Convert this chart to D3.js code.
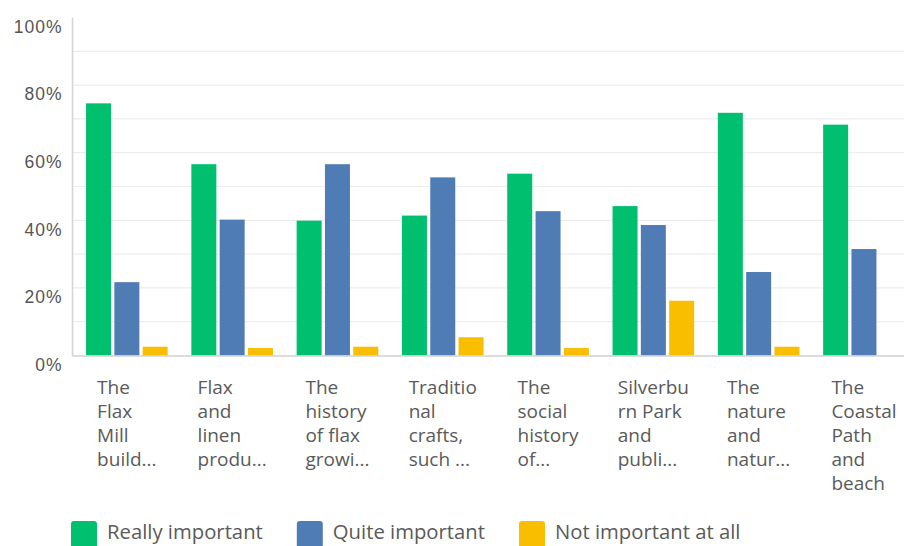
<!DOCTYPE html>
<html>
<head>
<meta charset="utf-8">
<script src="https://cdn.jsdelivr.net/npm/d3@7"></script>
<style>
  html, body { margin: 0; padding: 0; background: #ffffff; }
  svg { display: block; }
  .ylab { font-family: "Liberation Sans", Arial, sans-serif; font-size: 17.5px; letter-spacing: 1px; fill: #555; }
  .xlab { font-family: "Open Sans", sans-serif; font-size: 19px; fill: #5a5a5a; }
  .leg { font-family: "Open Sans", sans-serif; font-size: 20.3px; fill: #5a5a5a; }
</style>
</head>
<body>
<svg id="chart" width="904" height="546"></svg>
<script>
// Survey answers: share of respondents per topic (percent)
const categories = [
  "The Flax Mill build...",
  "Flax and linen produ...",
  "The history of flax growi...",
  "Traditional crafts, such ...",
  "The social history of...",
  "Silverburn Park and publi...",
  "The nature and natur...",
  "The Coastal Path and beach"
];
// Wrapped tick label lines as shown under each group
const tickLines = [
  ["The", "Flax", "Mill", "build..."],
  ["Flax", "and", "linen", "produ..."],
  ["The", "history", "of flax", "growi..."],
  ["Traditio", "nal", "crafts,", "such ..."],
  ["The", "social", "history", "of..."],
  ["Silverbu", "rn Park", "and", "publi..."],
  ["The", "nature", "and", "natur..."],
  ["The", "Coastal", "Path", "and", "beach"]
];
const seriesNames = ["Really important", "Quite important", "Not important at all"];
const reallyImportant = [74.6, 56.6, 39.9, 41.4, 53.8, 44.2, 71.8, 68.3];
const quiteImportant  = [21.7, 40.2, 56.6, 52.7, 42.7, 38.6, 24.7, 31.5];
const notImportant    = [2.6, 2.2, 2.6, 5.4, 2.2, 16.2, 2.6, 0];
const yTicks = [0, 20, 40, 60, 80, 100];
const yGrid = [10, 20, 30, 40, 50, 60, 70, 80, 90];

const seriesValues = [reallyImportant, quiteImportant, notImportant];
const colors = ["#00bf6f", "#507cb6", "#f9be00"];

const svg = d3.select("#chart");
const W = 904;
const axisX = 72.5;

const x0 = d3.scaleBand()
  .domain(categories)
  .range([74.2, 916.6])
  .paddingInner(0.225)
  .paddingOuter(0.1125);

const x1 = d3.scaleBand()
  .domain(seriesNames)
  .range([0, x0.bandwidth()])
  .paddingInner(0.117);

const y = d3.scaleLinear().domain([0, 100]).range([355.5, 17.5]);

// light horizontal grid
svg.append("g").selectAll("line")
  .data(yGrid)
  .join("line")
  .attr("x1", axisX).attr("x2", W)
  .attr("y1", d => y(d)).attr("y2", d => y(d))
  .attr("stroke", "#ededed")
  .attr("stroke-width", 1.2);

// y axis labels, set a little below their grid lines
const yAxis = d3.axisLeft(y).tickValues(yTicks).tickFormat(d => d + "%").tickSize(0).tickPadding(0);
const gy = svg.append("g").attr("transform", `translate(${axisX - 11},0)`).call(yAxis);
gy.select(".domain").remove();
gy.selectAll("text")
  .attr("class", "ylab")
  .attr("fill", null)
  .attr("dy", "0.85em")
  .attr("dx", "1px");
gy.attr("font-family", null).attr("font-size", null);

// bars
const groups = svg.append("g").selectAll("g")
  .data(categories)
  .join("g")
  .attr("transform", d => `translate(${x0(d)},0)`);

groups.selectAll("rect")
  .data((d, i) => seriesNames.map((s, k) => ({ s, k, v: seriesValues[k][i] })))
  .join("rect")
  .attr("x", d => x1(d.s))
  .attr("width", x1.bandwidth())
  .attr("y", d => y(d.v))
  .attr("height", d => y(0) - y(d.v))
  .attr("fill", d => colors[d.k]);

// axis lines
svg.append("line")
  .attr("x1", axisX).attr("x2", axisX)
  .attr("y1", y(100)).attr("y2", y(0) + 0.5)
  .attr("stroke", "#d4d4d4").attr("stroke-width", 1.5);
svg.append("line")
  .attr("x1", axisX).attr("x2", W)
  .attr("y1", y(0) + 0.5).attr("y2", y(0) + 0.5)
  .attr("stroke", "#d0d0d0").attr("stroke-width", 1.5);

// category labels: left-aligned lines in a block centred under each group
const xl = svg.append("g");
categories.forEach((c, i) => {
  const t = xl.append("text").attr("class", "xlab");
  tickLines[i].forEach((ln, j) => {
    t.append("tspan").attr("x", 0).attr("y", 394 + j * 24).text(ln);
  });
  let maxW = 0;
  t.selectAll("tspan").each(function () { maxW = Math.max(maxW, this.getComputedTextLength()); });
  const cx = x0(c) + x0.bandwidth() / 2;
  t.attr("transform", `translate(${cx - maxW / 2},0)`);
});

// legend
const leg = svg.append("g");
let lx = 71;
seriesNames.forEach((s, k) => {
  leg.append("rect")
    .attr("x", lx).attr("y", 521)
    .attr("width", 26).attr("height", 27)
    .attr("rx", 3).attr("fill", colors[k]);
  const t = leg.append("text").attr("class", "leg")
    .attr("x", lx + 36).attr("y", 539).text(s);
  lx = lx + 36 + t.node().getComputedTextLength() + 34;
});
</script>
</body>
</html>
